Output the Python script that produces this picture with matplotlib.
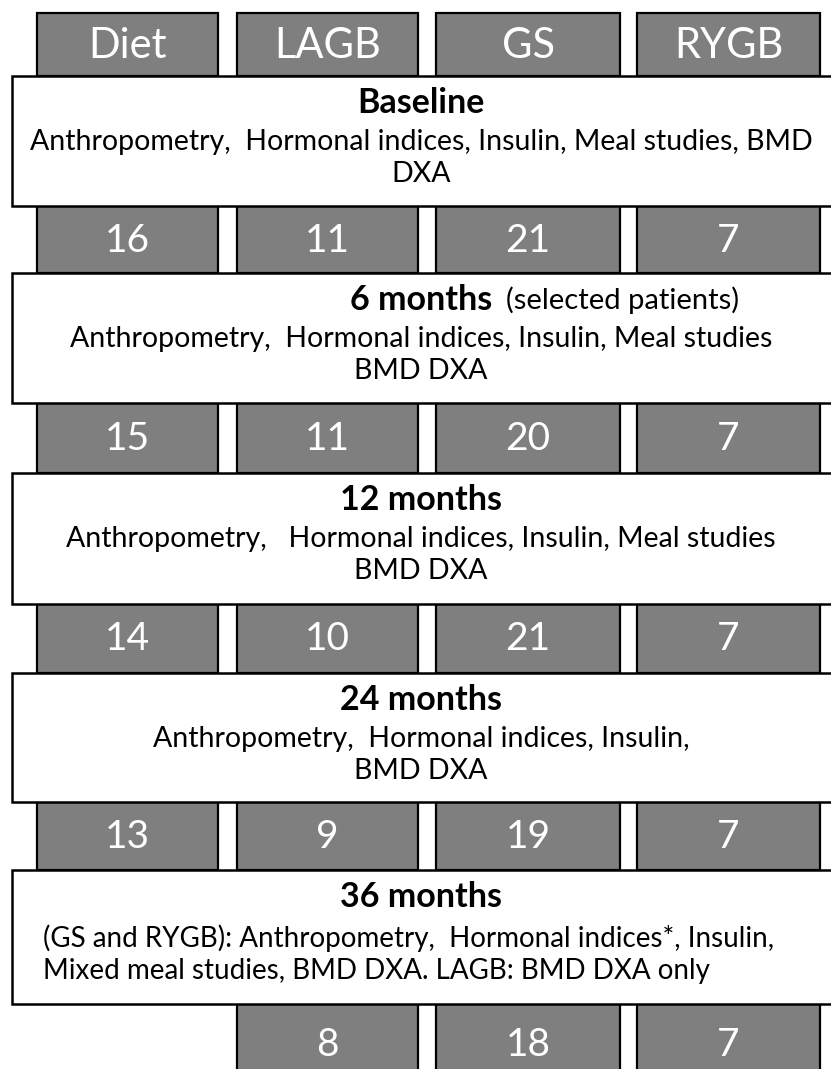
import matplotlib
matplotlib.use("Agg")
import matplotlib.pyplot as plt
from matplotlib.patches import Rectangle

groups = ["Diet", "LAGB", "GS", "RYGB"]
n_baseline = [16, 11, 21, 7]
n_6m = [15, 11, 20, 7]
n_12m = [14, 10, 21, 7]
n_24m = [13, 9, 19, 7]
n_36m = [None, 8, 18, 7]

stage_titles = ["Baseline", "6 months", "12 months", "24 months", "36 months"]
stage_notes = ["", "(selected patients)", "", "", ""]
stage_lines = [
    ["Anthropometry,  Hormonal indices, Insulin, Meal studies, BMD", "DXA"],
    ["Anthropometry,  Hormonal indices, Insulin, Meal studies", "BMD DXA"],
    ["Anthropometry,   Hormonal indices, Insulin, Meal studies", "BMD DXA"],
    ["Anthropometry,  Hormonal indices, Insulin,", "BMD DXA"],
    ["(GS and RYGB): Anthropometry,  Hormonal indices*, Insulin,",
     "Mixed meal studies, BMD DXA. LAGB: BMD DXA only"],
]
count_rows = [n_baseline, n_6m, n_12m, n_24m, n_36m]

W, H = 831, 1069
fig = plt.figure(figsize=(W / 100, H / 100), dpi=100)
ax = fig.add_axes([0, 0, 1, 1])
ax.set_xlim(0, W)
ax.set_ylim(H, 0)
ax.axis("off")

FONT = "Lato"
GRAY = "#7f7f7f"

col_left = [37, 237, 436, 637]
col_w = [181, 181, 184, 183]
gray_rows = [(13, 76), (206, 273), (403, 473), (604, 673), (802, 870), (1004, 1085)]
white_rows = [(76, 206), (273, 403), (473, 604), (673, 802), (870, 1004)]


def gray_box(x, y0, y1, w, label, size):
    ax.add_patch(Rectangle((x, y0), w, y1 - y0, facecolor=GRAY,
                           edgecolor="black", lw=1.6, zorder=2))
    ax.text(x + w / 2, (y0 + y1) / 2 + 1, str(label), color="white",
            fontsize=size, family=FONT, ha="center", va="center", zorder=3)


# header row
for i, g in enumerate(groups):
    gray_box(col_left[i], gray_rows[0][0], gray_rows[0][1], col_w[i], g, 30)

# count rows
for r, row in enumerate(count_rows):
    y0, y1 = gray_rows[r + 1]
    for i, v in enumerate(row):
        if v is None:
            continue
        gray_box(col_left[i], y0, y1, col_w[i], v, 28)

# stage boxes
cx = 421
for s, (y0, y1) in enumerate(white_rows):
    ax.add_patch(Rectangle((12, y0), 840, y1 - y0, facecolor="white",
                           edgecolor="black", lw=1.8, zorder=4))
    ty = y0 + 27
    t = ax.text(cx, ty, stage_titles[s], fontsize=24.5, family=FONT,
                fontweight="bold", ha="center", va="center", zorder=5)
    if stage_notes[s]:
        fig.canvas.draw()
        bb = t.get_window_extent()
        xr = ax.transData.inverted().transform((bb.x1, bb.y0))[0]
        ax.text(xr + 14, ty, stage_notes[s], fontsize=21, family=FONT,
                ha="left", va="center", zorder=5)
    lines = stage_lines[s]
    if s == 4:
        for k, ln in enumerate(lines):
            ax.text(43, y0 + 68 + 33 * k, ln, fontsize=20, family=FONT,
                    ha="left", va="center", zorder=5)
    else:
        for k, ln in enumerate(lines):
            ax.text(cx, y0 + 66 + 32 * k, ln, fontsize=20.5, family=FONT,
                    ha="center", va="center", zorder=5)

fig.savefig("out.png", dpi=100, facecolor="white")
